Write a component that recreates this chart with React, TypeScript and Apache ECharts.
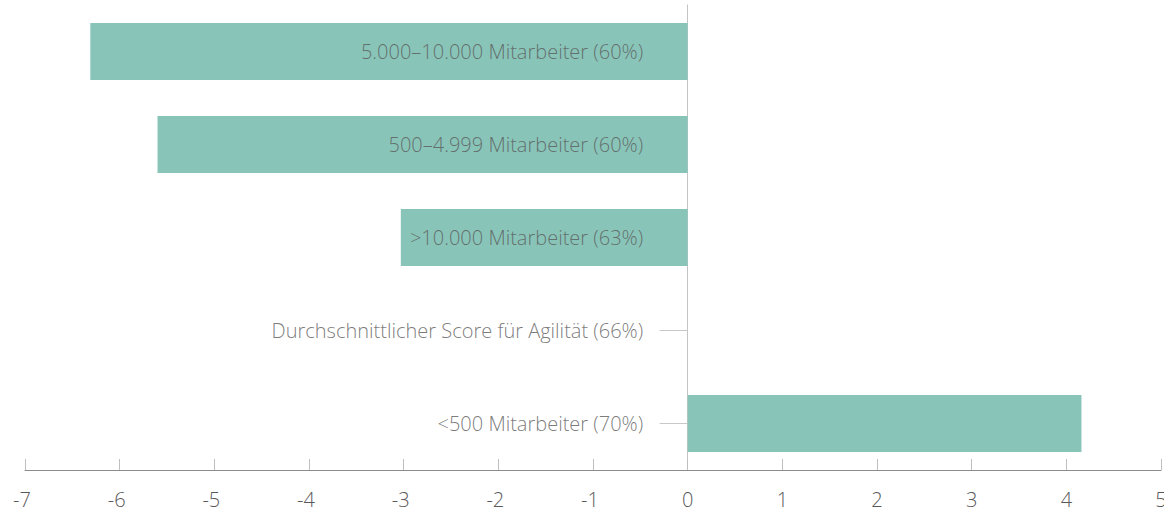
import React, { useEffect, useRef } from "react";
import * as echarts from "echarts";

const categories = [
  "5.000–10.000 Mitarbeiter (60%)",
  "500–4.999 Mitarbeiter (60%)",
  ">10.000 Mitarbeiter (63%)",
  "Durchschnittlicher Score für Agilität (66%)",
  "<500 Mitarbeiter (70%)",
];
const values = [-6.31, -5.6, -3.03, 0, 4.16];
const xMin = -7;
const xMax = 5;
const xInterval = 1;

const FONT = "'Open Sans', 'Noto Sans', sans-serif";
const TEXT = "#595959";
const BAR = "#89c4b8";

export default function App() {
  const ref = useRef<HTMLDivElement>(null);
  useEffect(() => {
    if (!ref.current) return;
    const chart = echarts.init(ref.current, null, { renderer: "svg" });
    chart.setOption({
      animation: false,
      grid: { left: 25, right: 3, top: 5, bottom: 44, containLabel: false, outerBoundsMode: "none" },
      xAxis: {
        type: "value",
        min: xMin,
        max: xMax,
        interval: xInterval,
        axisLine: { show: true, lineStyle: { color: "#8c8c8c", width: 1 } },
        axisTick: { show: true, inside: true, length: 11, lineStyle: { color: "#bfbfbf" } },
        splitLine: { show: false },
        axisLabel: {
          margin: 19,
          fontFamily: FONT,
          fontWeight: 300,
          fontSize: 20,
          color: TEXT,
          formatter: (v: number) => (v < 0 ? "{a|" + "-" + Math.abs(v) + "}{p|}" : "{a|" + v + "}"),
          rich: {
            a: { fontFamily: FONT, fontWeight: 300, fontSize: 20, color: TEXT },
            p: { width: 6 },
          },
        },
      },
      yAxis: {
        type: "category",
        data: categories,
        inverse: true,
        axisLine: { show: true, onZero: true, lineStyle: { color: "#c4c4c4", width: 1 } },
        axisTick: { show: true, alignWithLabel: true, length: 28, lineStyle: { color: "#c8c8c8" } },
        axisLabel: { show: false },
        splitLine: { show: false },
      },
      series: [
        {
          type: "bar",
          data: values,
          barWidth: 57,
          itemStyle: { color: BAR },
          z: 2,
          silent: true,
        },
        {
          type: "scatter",
          data: categories.map((c) => [0, c]),
          symbolSize: 1,
          itemStyle: { color: "rgba(0,0,0,0)" },
          z: 10,
          silent: true,
          label: {
            show: true,
            position: "left",
            distance: 44,
            formatter: (p: any) => p.data[1],
            fontFamily: FONT,
            fontWeight: 300,
            fontSize: 20,
            color: TEXT,
          },
        },
      ],
    });
    return () => chart.dispose();
  }, []);
  return <div ref={ref} style={{ width: 1164, height: 514, position: "absolute", left: 0, top: 0 }} />;
}
